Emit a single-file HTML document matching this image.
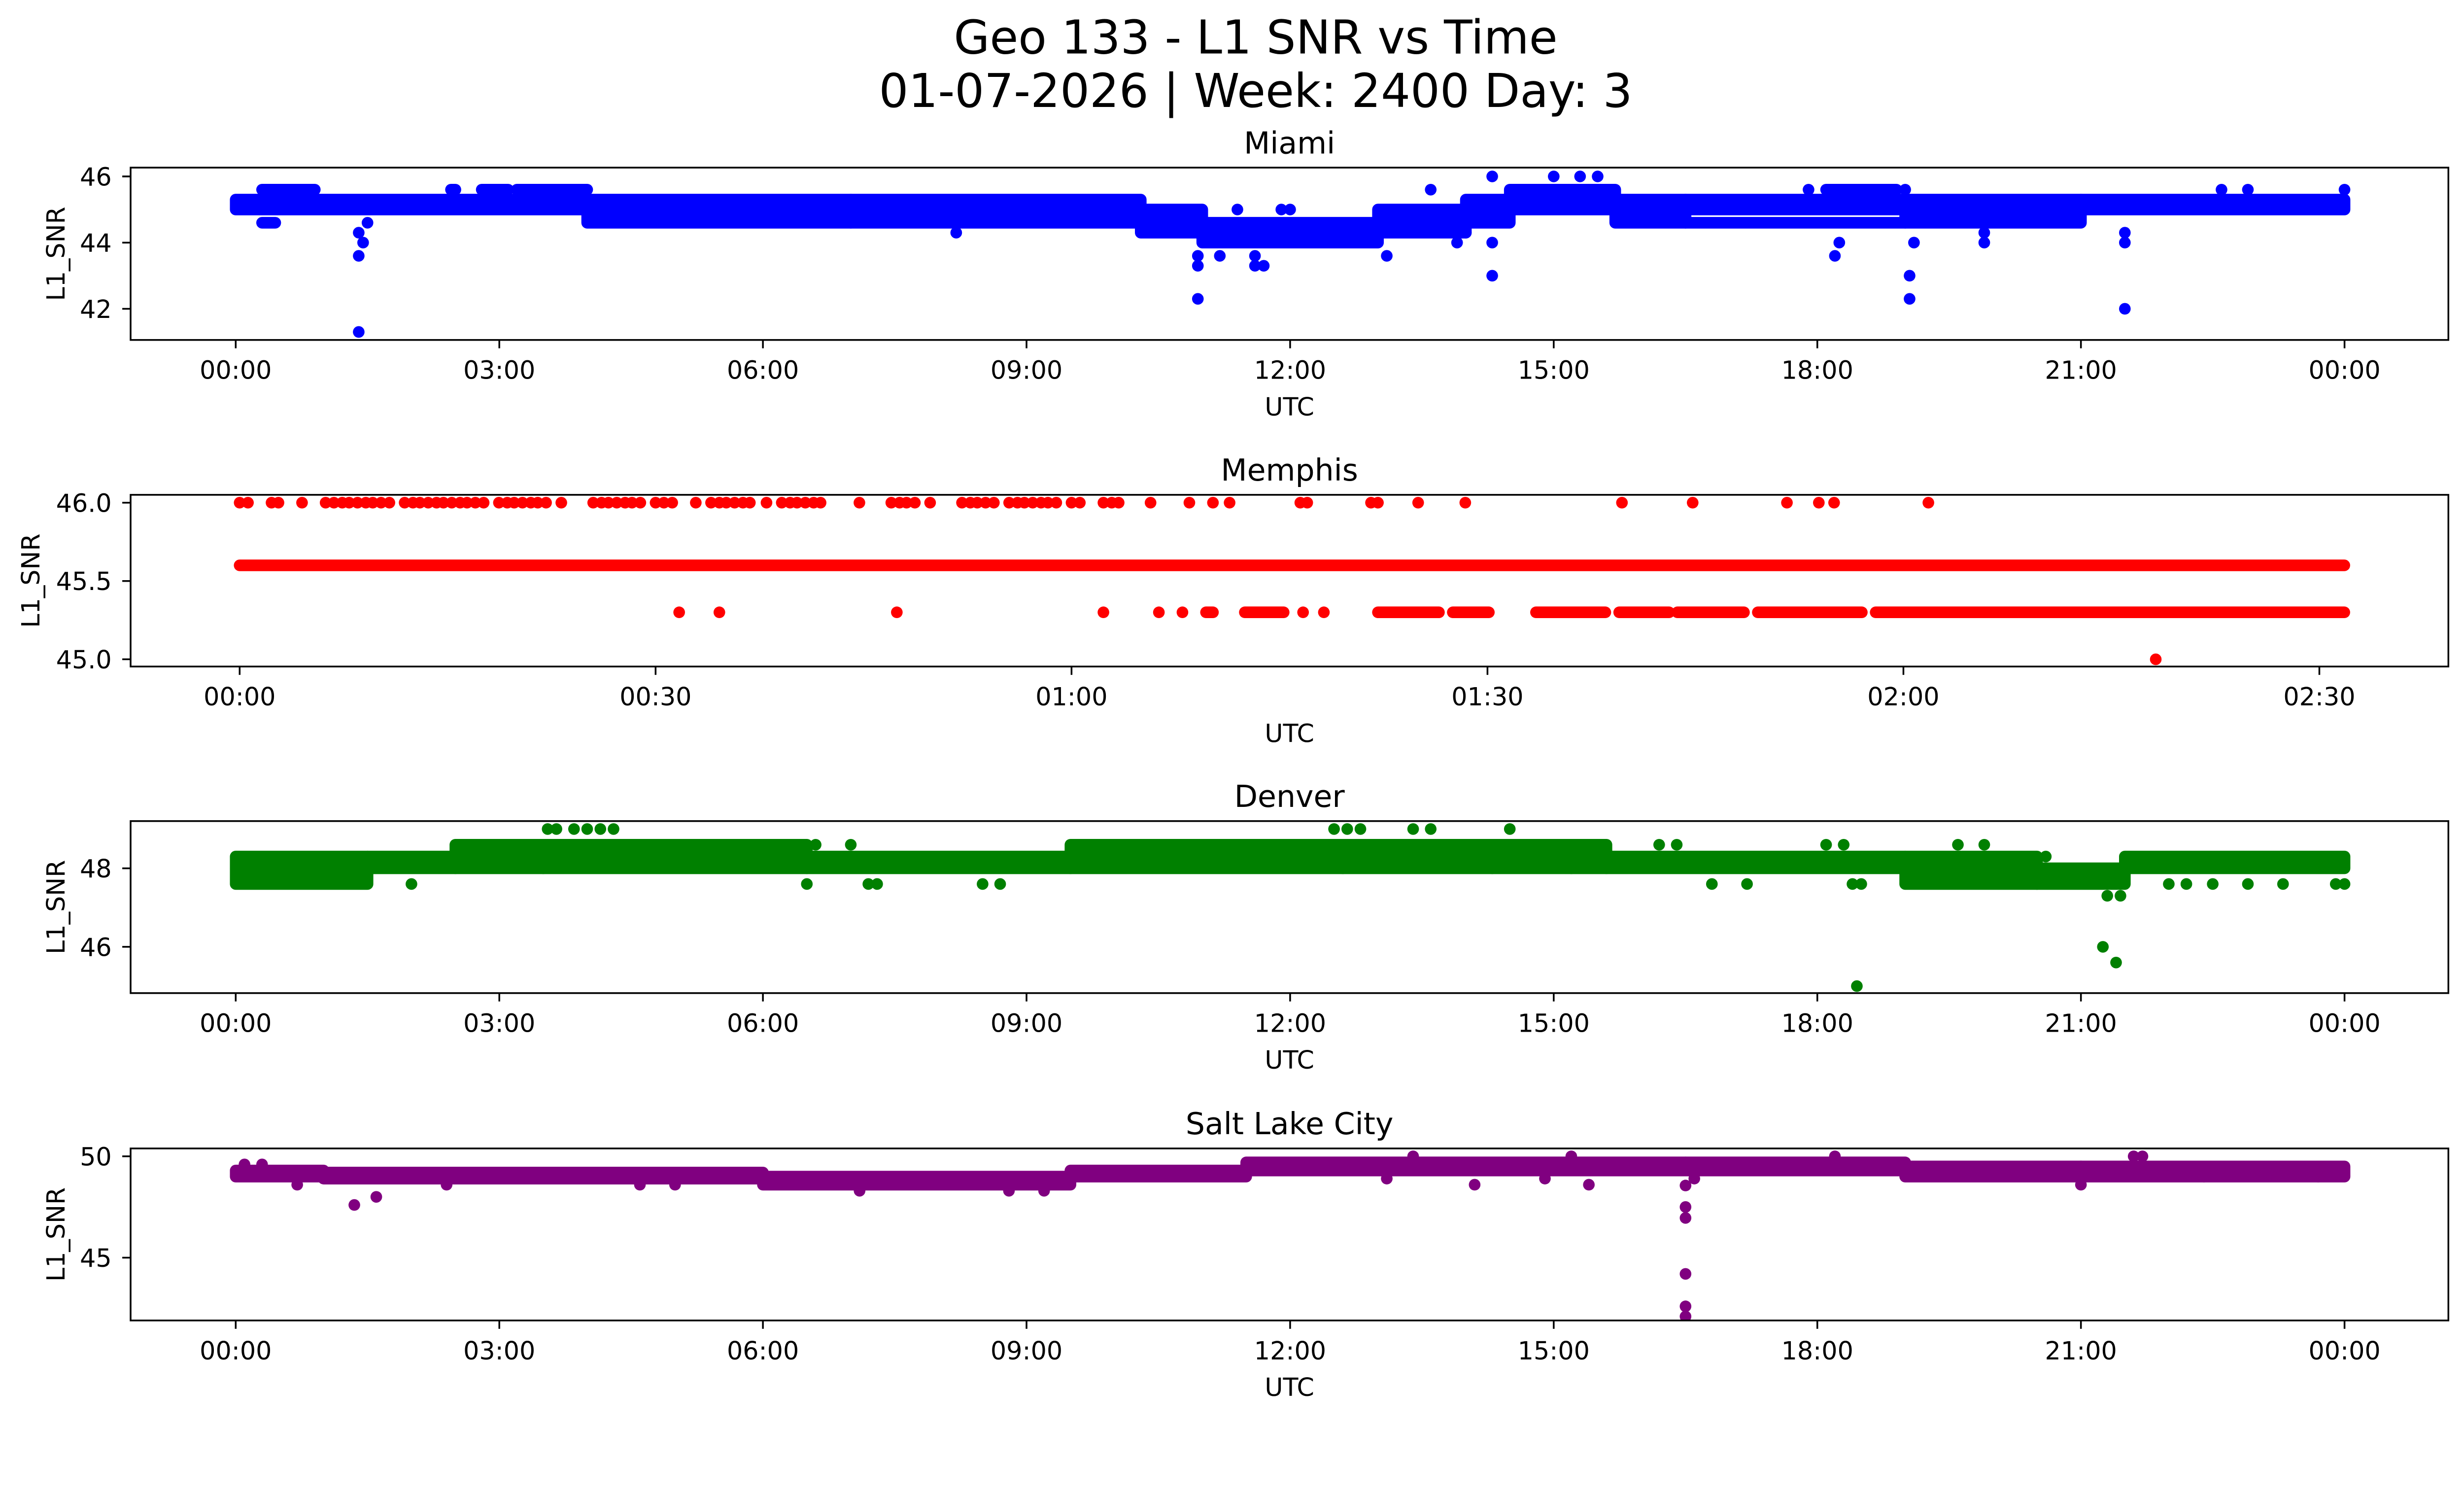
<!DOCTYPE html>
<html><head><meta charset="utf-8"><style>
html,body{margin:0;padding:0;background:#fff;width:5278px;height:3033px;overflow:hidden;}
svg{display:block;font-family:"DejaVu Sans","Liberation Sans",sans-serif;}
</style></head><body>
<svg id="fig" width="5278" height="3033" style="width:5278px;height:3033px" xmlns="http://www.w3.org/2000/svg">
<g transform="scale(3.193)">
<rect x="0" y="0" width="1652" height="949" fill="#fff"/>
<text x="798" y="34" font-size="29.5" text-anchor="middle">Geo 133 - L1 SNR vs Time</text>
<text x="798" y="68" font-size="29.5" text-anchor="middle">01-07-2026 | Week: 2400 Day: 3</text>
<g id="plots"></g>
</g>
</svg>
<script>
// ---------------- DATA ----------------
const hourTicks = [0,3,6,9,12,15,18,21,24];
const hourTickLabels = ["00:00","03:00","06:00","09:00","12:00","15:00","18:00","21:00","00:00"];
const minuteTicks = [0,30,60,90,120,150];
const minuteTickLabels = ["00:00","00:30","01:00","01:30","02:00","02:30"];

// Miami (hours, L1_SNR)
const miamiYTicks = [42,44,46];
const miamiBandStart = [0.0,4.0,7.0,10.3,11.0,13.0,14.0,14.5,15.7,16.5,19.0,21.0];
const miamiBandEnd   = [4.0,7.0,10.3,11.0,13.0,14.0,14.5,15.7,16.5,19.0,21.0,24.0];
const miamiBandLow   = [45.0,44.6,44.6,44.3,44.0,44.3,44.6,45.0,44.6,45.0,44.6,45.0];
const miamiBandHigh  = [45.3,45.3,45.3,45.0,44.6,45.0,45.3,45.6,45.3,45.3,45.3,45.3];
const miamiRowStart = [0.3,2.45,2.8,3.2,18.1,16.5,0.3];
const miamiRowEnd   = [0.9,2.5,3.1,4.0,18.9,19.0,0.45];
const miamiRowValue = [45.6,45.6,45.6,45.6,45.6,44.6,44.6];
const miamiPointTime = [1.4,1.4,1.45,1.4,1.5,10.95,10.95,10.95,11.6,11.7,11.6,13.1,14.3,14.3,14.3,15.0,15.3,15.5,18.2,18.25,19.05,19.05,19.1,21.5,21.5,21.5,13.6,22.6,22.9,11.4,11.9,12.0,24.0,19.0,19.9,19.9,8.2,13.9,14.0,17.9,11.2];
const miamiPointValue= [41.3,43.6,44.0,44.3,44.6,42.3,43.3,43.6,43.3,43.3,43.6,43.6,43.0,44.0,46.0,46.0,46.0,46.0,43.6,44.0,42.3,43.0,44.0,42.0,44.0,44.3,45.6,45.6,45.6,45.0,45.0,45.0,45.6,45.6,44.0,44.3,44.3,44.0,44.3,45.6,43.6];

// Memphis (minutes, L1_SNR)
const memphisYTicks = [45.0,45.5,46.0];
const memphisYTickLabels = ["45.0","45.5","46.0"];
const memphisRunStart = [0,31.7,34.6,47.4,62.3,66.3,68.0,69.7,72.5,76.7,78.2,82.1,87.5,93.5,99.5,103.7,109.5,118.0];
const memphisRunEnd   = [151.8,31.7,34.6,47.4,62.3,66.3,68.0,70.2,75.3,76.7,78.2,86.5,90.1,98.5,103.1,108.5,117.0,151.8];
const memphisRunValue = [45.6,45.3,45.3,45.3,45.3,45.3,45.3,45.3,45.3,45.3,45.3,45.3,45.3,45.3,45.3,45.3,45.3,45.3];
const memphisHighTimes = [0,0.6,2.3,2.8,4.5,6.2,6.8,7.4,7.9,8.5,9.1,9.6,10.2,10.8,11.9,12.5,13.0,13.6,14.2,14.7,15.3,15.9,16.4,17.0,17.6,18.7,19.3,19.8,20.4,21.0,21.5,22.1,23.2,25.5,26.1,26.6,27.2,27.8,28.3,28.9,30.0,30.6,31.2,32.9,34.0,34.6,35.1,35.7,36.3,36.8,38.0,39.1,39.7,40.2,40.8,41.4,41.9,44.7,47.0,47.6,48.1,48.7,49.8,52.1,52.7,53.2,53.8,54.4,55.5,56.1,56.6,57.2,57.8,58.3,58.9,60.0,60.6,62.3,62.9,63.4,65.7,68.5,70.2,71.4,76.5,77.0,81.6,82.1,85.0,88.4,99.7,104.8,111.6,113.9,115.0,121.8];
const memphisHighValue = 46.0;
const memphisLowTimes = [138.2];
const memphisLowValue = 45.0;

// Denver (hours, L1_SNR)
const denverYTicks = [46,48];
const denverBandStart = [0.0,1.5,2.5,3.5,6.5,9.5,15.6,19.0,20.5,21.5];
const denverBandEnd   = [1.5,2.5,3.5,6.5,9.5,15.6,19.0,20.5,21.5,24.0];
const denverBandLow   = [47.6,48.0,48.0,48.0,48.0,48.0,48.0,47.6,47.6,48.0];
const denverBandHigh  = [48.3,48.3,48.6,48.6,48.3,48.6,48.3,48.3,48.0,48.3];
const denverPointTime = [3.55,3.65,3.85,4.0,4.15,4.3,12.5,12.65,12.8,13.4,13.6,14.5,18.45,21.25,21.4,21.3,21.45,2.0,6.5,7.2,7.3,8.5,8.7,16.8,17.2,18.4,18.5,22.0,22.2,22.5,22.9,23.3,23.9,24.0,18.1,18.3,16.2,16.4,6.6,7.0,11.6,12.6,14.3,15.2,19.6,19.9,20.6,0.0];
const denverPointValue= [49.0,49.0,49.0,49.0,49.0,49.0,49.0,49.0,49.0,49.0,49.0,49.0,45.0,46.0,45.6,47.3,47.3,47.6,47.6,47.6,47.6,47.6,47.6,47.6,47.6,47.6,47.6,47.6,47.6,47.6,47.6,47.6,47.6,47.6,48.6,48.6,48.6,48.6,48.6,48.6,48.6,48.0,48.0,48.0,48.6,48.6,48.3,48.0];

// Salt Lake City (hours, L1_SNR)
const slcYTicks = [45,50];
const slcBandStart = [0.0,1.0,6.0,9.5,11.5,16.5,19.0,21.0];
const slcBandEnd   = [1.0,6.0,9.5,11.5,16.5,19.0,21.0,24.0];
const slcBandLow   = [49.0,48.9,48.6,49.0,49.3,49.3,49.0,49.0];
const slcBandHigh  = [49.3,49.2,49.0,49.3,49.7,49.7,49.5,49.5];
const slcPointTime = [16.5,16.5,16.5,16.5,16.5,16.5,1.35,1.6,13.4,15.2,18.2,21.6,21.7,0.1,0.3,0.7,2.4,4.6,5.0,7.1,8.8,9.2,13.1,14.1,14.9,15.4,16.6,21.0,22.4,23.7];
const slcPointValue= [48.56,47.5,46.96,44.2,42.6,42.1,47.6,48.0,50.0,50.0,50.0,50.0,50.0,49.6,49.6,48.6,48.6,48.6,48.6,48.3,48.3,48.3,48.9,48.6,48.9,48.6,48.9,48.6,49.0,49.0];

// ---------------- RENDERING ----------------
const NS = "http://www.w3.org/2000/svg";
const plots = document.getElementById('plots');
const R = 3.7;
const AX_L = 83, AX_R = 1556;

function mk(tag, attrs, parent) {
  const e = document.createElementNS(NS, tag);
  for (const k in attrs) e.setAttribute(k, attrs[k]);
  parent.appendChild(e);
  return e;
}
function makeLinear(d0, p0, d1, p1) {
  return v => p0 + (v - d0) * (p1 - p0) / (d1 - d0);
}

function panel(cfg) {
  const g = mk('g', {}, plots);
  
  
  const x = cfg.x, y = cfg.y;
  const cp = mk('clipPath', {id: 'clip-' + cfg.name}, g);
  mk('rect', {x: AX_L, y: cfg.top, width: AX_R - AX_L, height: cfg.bottom - cfg.top}, cp);
  const marks = mk('g', {'clip-path': 'url(#clip-' + cfg.name + ')', fill: cfg.color}, g);
  
  
  (cfg.bandStart || []).forEach((s, i) => {
    const x0 = x(s), x1 = x(cfg.bandEnd[i]);
    const yTop = y(cfg.bandHigh[i]), yBot = y(cfg.bandLow[i]);
    const r = mk('rect', {x: x0 - R, y: yTop - R, width: x1 - x0 + 2 * R, height: yBot - yTop + 2 * R, rx: R, ry: R}, marks);
    
    
  });
  (cfg.rowStart || []).forEach((s, i) => {
    const x0 = x(s), x1 = x(cfg.rowEnd[i]);
    const yy = y(cfg.rowValue[i]);
    const r = mk('rect', {x: x0 - R, y: yy - R, width: x1 - x0 + 2 * R, height: 2 * R, rx: R, ry: R}, marks);
    
    
  });
  (cfg.pointTime || []).forEach((t, i) => {
    const c = mk('circle', {cx: x(t), cy: y(cfg.pointValue[i]), r: R}, marks);
    
    
  });
  const fr = mk('rect', {x: AX_L, y: cfg.top, width: AX_R - AX_L, height: cfg.bottom - cfg.top, fill: 'none', stroke: '#000', 'stroke-width': 1.1}, g);
  
  
  const xg = mk('g', {}, g);
  
  
  cfg.xTicks.forEach((t, i) => {
    const px = x(t);
    mk('line', {x1: px, x2: px, y1: cfg.bottom, y2: cfg.bottom + 5.3, stroke: '#000', 'stroke-width': 1.1}, xg);
    const tx = mk('text', {x: px, y: cfg.bottom + 24.7, 'font-size': 15.9, 'text-anchor': 'middle'}, xg);
    
    
    tx.textContent = cfg.xTickLabels[i];
  });
  const xl = mk('text', {x: (AX_L + AX_R) / 2, y: cfg.bottom + 48, 'font-size': 15.9, 'text-anchor': 'middle'}, g);
  
  
  xl.textContent = 'UTC';
  const yg = mk('g', {}, g);
  
  
  cfg.yTicks.forEach((v, i) => {
    const py = y(v);
    mk('line', {x1: AX_L - 5.3, x2: AX_L, y1: py, y2: py, stroke: '#000', 'stroke-width': 1.1}, yg);
    const tx = mk('text', {x: AX_L - 12, y: py + 5.8, 'font-size': 15.9, 'text-anchor': 'end'}, yg);
    
    
    tx.textContent = cfg.yTickLabels ? cfg.yTickLabels[i] : String(v);
  });
  const cy = (cfg.top + cfg.bottom) / 2;
  const yl = mk('text', {x: cfg.ylabelX, y: cy, 'font-size': 15.9, 'text-anchor': 'middle', transform: 'rotate(-90 ' + cfg.ylabelX + ' ' + cy + ')'}, g);
  
  
  yl.textContent = 'L1_SNR';
  const tt = mk('text', {x: (AX_L + AX_R) / 2, y: cfg.top - 9, 'font-size': 19.3, 'text-anchor': 'middle'}, g);
  
  
  tt.textContent = cfg.title;
}

const xHours = makeLinear(0, 149.8, 24, 1490);
const xMinutes = makeLinear(0, 152.3, 150, 1474);

panel({name: 'miami', title: 'Miami', color: '#0000ff', top: 106.5, bottom: 216, ylabelX: 41,
  x: xHours, y: makeLinear(46, 112.1, 42, 196.2),
  xTicks: hourTicks, xTickLabels: hourTickLabels, yTicks: miamiYTicks,
  bandStart: miamiBandStart, bandEnd: miamiBandEnd, bandLow: miamiBandLow, bandHigh: miamiBandHigh,
  rowStart: miamiRowStart, rowEnd: miamiRowEnd, rowValue: miamiRowValue,
  pointTime: miamiPointTime, pointValue: miamiPointValue});

panel({name: 'memphis', title: 'Memphis', color: '#ff0000', top: 314.4, bottom: 423.5, ylabelX: 25,
  x: xMinutes, y: makeLinear(46, 319.4, 45, 418.9),
  xTicks: minuteTicks, xTickLabels: minuteTickLabels, yTicks: memphisYTicks, yTickLabels: memphisYTickLabels,
  rowStart: memphisRunStart, rowEnd: memphisRunEnd, rowValue: memphisRunValue,
  pointTime: memphisHighTimes.concat(memphisLowTimes),
  pointValue: memphisHighTimes.map(() => memphisHighValue).concat(memphisLowTimes.map(() => memphisLowValue))});

panel({name: 'denver', title: 'Denver', color: '#008000', top: 521.7, bottom: 631, ylabelX: 41,
  x: xHours, y: makeLinear(48, 551.7, 46, 601.6),
  xTicks: hourTicks, xTickLabels: hourTickLabels, yTicks: denverYTicks,
  bandStart: denverBandStart, bandEnd: denverBandEnd, bandLow: denverBandLow, bandHigh: denverBandHigh,
  pointTime: denverPointTime, pointValue: denverPointValue});

panel({name: 'salt-lake-city', title: 'Salt Lake City', color: '#800080', top: 729.7, bottom: 839, ylabelX: 41,
  x: xHours, y: makeLinear(50, 734.7, 45, 799.1),
  xTicks: hourTicks, xTickLabels: hourTickLabels, yTicks: slcYTicks,
  bandStart: slcBandStart, bandEnd: slcBandEnd, bandLow: slcBandLow, bandHigh: slcBandHigh,
  pointTime: slcPointTime, pointValue: slcPointValue});
</script>
</body></html>
